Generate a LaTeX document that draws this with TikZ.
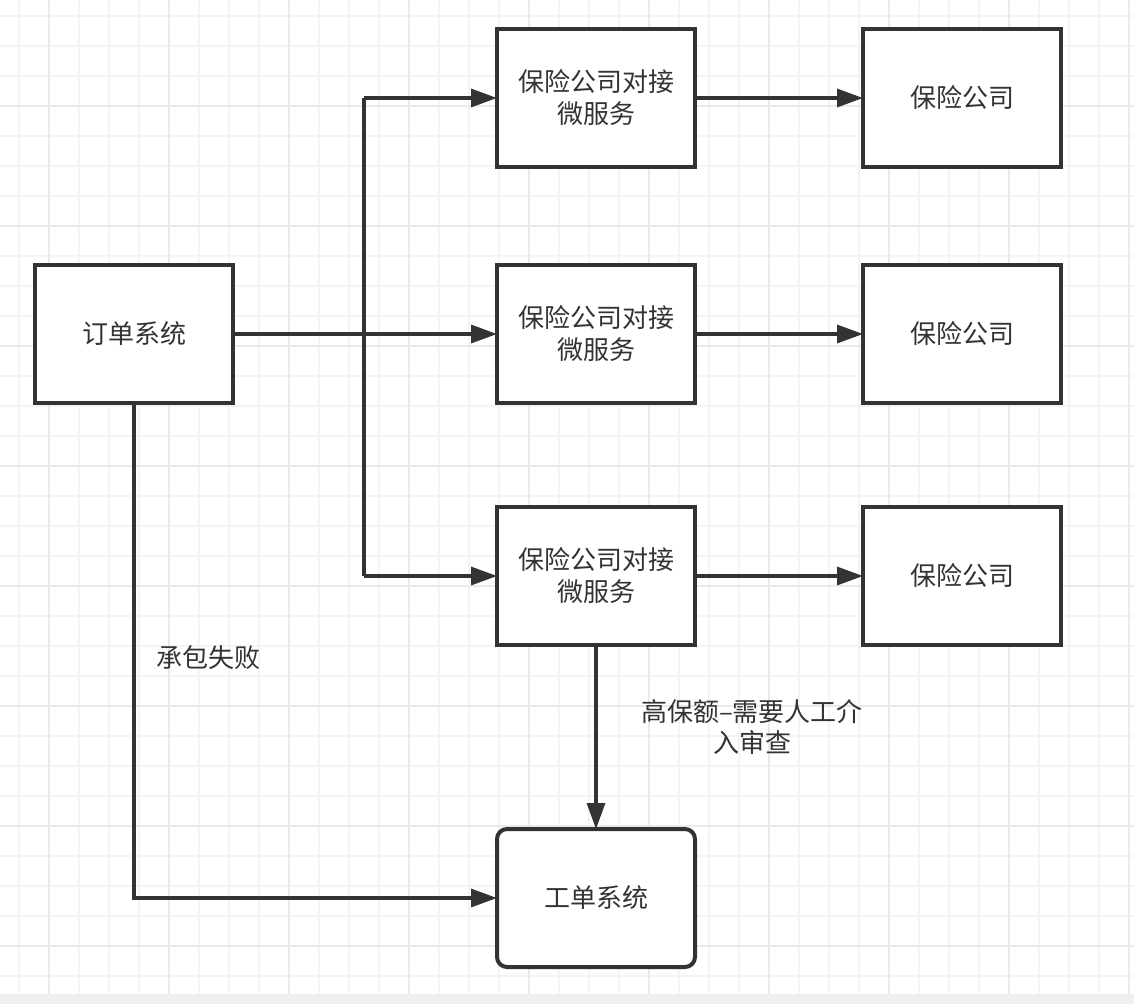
\documentclass[tikz,border=0pt]{standalone}
\usepackage{fontspec}
\setmainfont{Noto Sans CJK SC}
\usetikzlibrary{arrows.meta}
\definecolor{ink}{HTML}{333333}
\definecolor{gminor}{HTML}{F4F4F4}
\definecolor{gmajor}{HTML}{EAEAEA}
\definecolor{band}{HTML}{EFEFEF}
\begin{document}
\begin{tikzpicture}[x=1pt,y=-1pt,
  box/.style={draw=ink,fill=white,line width=4pt,minimum width=198pt,minimum height=138pt,inner sep=0pt,outer sep=0pt,align=center,text=ink,font=\fontsize{26}{32}\selectfont},
  rbox/.style={box,rounded corners=10pt},
  conn/.style={draw=ink,line width=3.3pt,-{Triangle[length=26pt,width=18pt]}},
  lbl/.style={text=ink,align=center,font=\fontsize{26}{31}\selectfont,inner sep=0pt}]
\useasboundingbox (0,0) rectangle (1134,1004);
\fill[white] (0,0) rectangle (1134,1004);
\foreach \i in {0,...,37} {\draw[gminor,line width=1.5pt] ({19+30*\i},0) -- ({19+30*\i},994);}
\foreach \i in {0,...,32} {\draw[gminor,line width=1.5pt] (0,{16+30*\i}) -- (1134,{16+30*\i});}
\foreach \i in {0,...,9} {\draw[gmajor,line width=1.5pt] ({49+120*\i},0) -- ({49+120*\i},994);}
\foreach \i in {0,...,7} {\draw[gmajor,line width=1.5pt] (0,{106+120*\i}) -- (1134,{106+120*\i});}
\fill[band] (0,994) rectangle (1134,1004);

\node[box] (order) at (134,334) {订单系统};
\node[box] (ms1) at (596,98) {保险公司对接\\微服务};
\node[box] (ms2) at (596,334) {保险公司对接\\微服务};
\node[box] (ms3) at (596,576) {保险公司对接\\微服务};
\node[box] (ic1) at (962,98) {保险公司};
\node[box] (ic2) at (962,334) {保险公司};
\node[box] (ic3) at (962,576) {保险公司};
\node[rbox] (work) at (596,898) {工单系统};

\coordinate (jtop) at (364,98);
\coordinate (jbot) at (364,576);
\coordinate (jcorner) at (134,898);

\draw[conn] (order.east) -- (ms2.west);
\draw[draw=ink,line width=3.3pt] (jtop) -- (jbot);
\draw[conn] (jtop) -- (ms1.west);
\draw[conn] (jbot) -- (ms3.west);
\draw[conn] (ms1.east) -- (ic1.west);
\draw[conn] (ms2.east) -- (ic2.west);
\draw[conn] (ms3.east) -- (ic3.west);
\draw[conn] (ms3.south) -- (work.north);
\draw[conn] (order.south) -- (jcorner) -- (work.west);

\node[lbl] (l1) at (208,658) {承包失败};
\node[lbl] (l2) at (752,727) {高保额–需要人工介\\入审查};
\end{tikzpicture}
\end{document}
